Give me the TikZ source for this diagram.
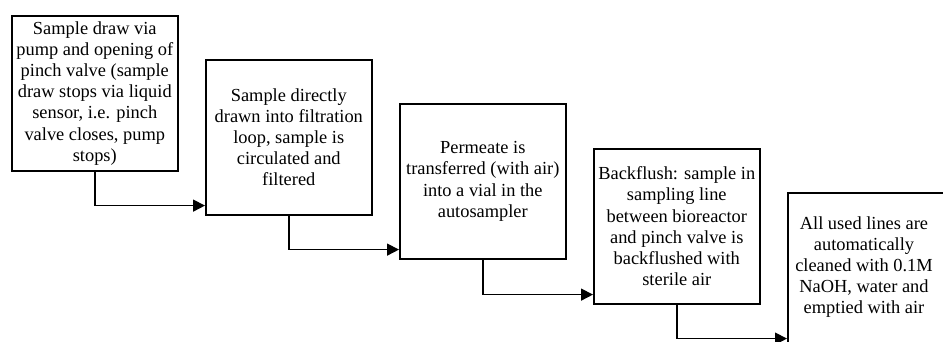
\documentclass[tikz,border=0pt]{standalone}
\usepackage{fontspec}
\setmainfont{Liberation Serif}
\usetikzlibrary{arrows.meta,calc}
\begin{document}
\begin{tikzpicture}[x=1pt,y=-1pt,
  stepbox/.style={draw=black, line width=1.6pt, minimum width=166pt, minimum height=155pt,
    inner sep=0pt, align=center, anchor=north west},
  steptext/.style={align=center, inner sep=0pt, font=\fontsize{18.4}{21.2}\selectfont},
  flow/.style={draw=black, line width=1.6pt, -{Triangle[length=12pt,width=12pt]}}]
\useasboundingbox (0,0) rectangle (943,342);
\clip (0,0) rectangle (943,342);
\fill[white] (0,0) rectangle (943,342);
\node[stepbox, steptext] (b1) at (11,15) {Sample draw via\\pump and opening of\\pinch valve (sample\\draw stops via liquid\\sensor, i.e. pinch\\valve closes, pump\\stops)};
\node[stepbox, steptext] (b2) at (205,59) {Sample directly\\drawn into filtration\\loop, sample is\\circulated and\\filtered};
\node[stepbox, steptext] (b3) at (399,103) {Permeate is\\transferred (with air)\\into a vial in the\\autosampler};
\node[stepbox, steptext] (b4) at (593,148) {Backflush: sample in\\sampling line\\between bioreactor\\and pinch valve is\\backflushed with\\sterile air};
\node[stepbox] (b5) at (787,192) {};
\node[steptext] (t5) at (864,267) {All used lines are\\automatically\\cleaned with 0.1M\\NaOH, water and\\emptied with air};
\draw[flow] (b1.south) |- ([yshift=10pt]b2.south west);
\draw[flow] (b2.south) |- ([yshift=10pt]b3.south west);
\draw[flow] (b3.south) |- ([yshift=10pt]b4.south west);
\draw[flow] (b4.south) |- ([yshift=10pt]b5.south west);
\end{tikzpicture}
\end{document}
